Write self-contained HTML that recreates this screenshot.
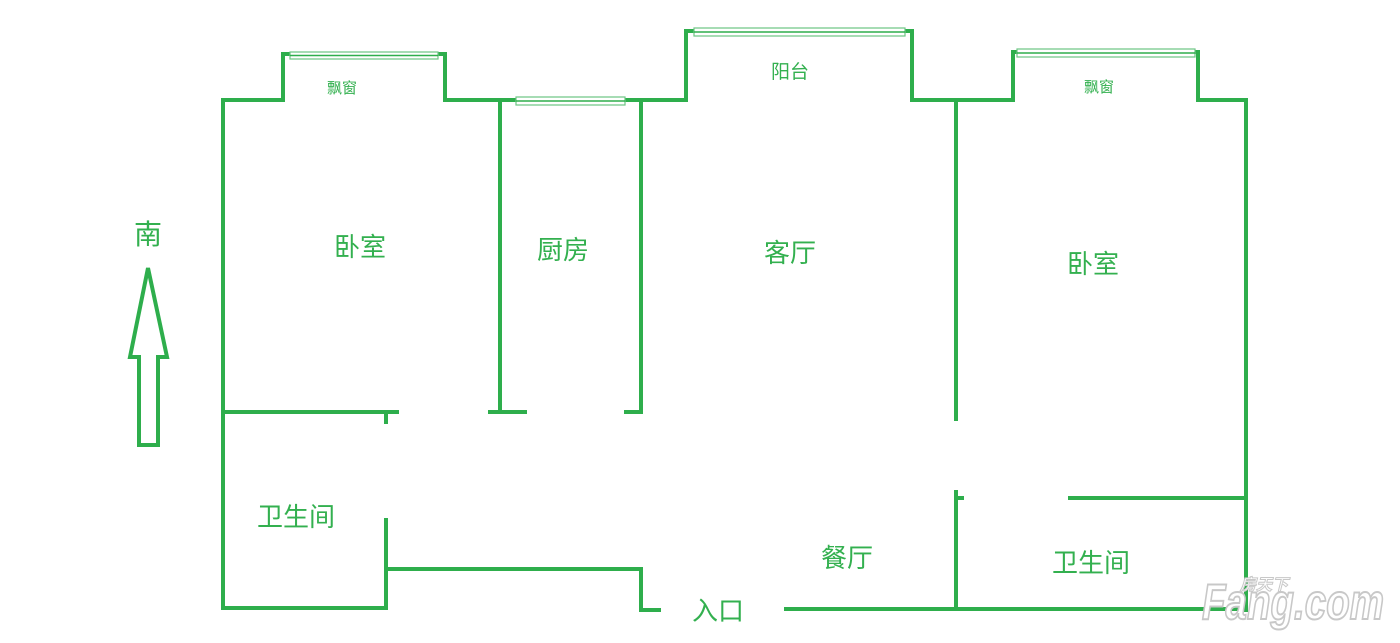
<!DOCTYPE html>
<html><head><meta charset="utf-8"><style>
body{margin:0;background:#fff;width:1400px;height:643px;overflow:hidden}
svg{display:block}
text{font-family:"Liberation Sans","Noto Sans CJK SC",sans-serif;fill:#33b04f}
</style></head><body>
<svg width="1400" height="643" viewBox="0 0 1400 643">
<g stroke="#2eae4c" stroke-width="4" fill="none" stroke-linecap="square">
<polyline points="223,608 223,100 283,100 283,54 445,54 445,100 686,100 686,31 912,31 912,100 1013,100 1013,52 1198,52 1198,100 1246,100 1246,610"/>
<line x1="500" y1="100" x2="500" y2="412"/>
<line x1="490" y1="412" x2="525" y2="412"/>
<line x1="641" y1="100" x2="641" y2="412"/>
<line x1="626" y1="412" x2="641" y2="412"/>
<line x1="223" y1="412" x2="397" y2="412"/>
<line x1="386" y1="412" x2="386" y2="422"/>
<polyline points="223,608 386,608 386,520"/>
<polyline points="386,569 641,569 641,610 659,610"/>
<line x1="786" y1="609" x2="1246" y2="609"/>
<line x1="956" y1="100" x2="956" y2="419"/>
<line x1="956" y1="492" x2="956" y2="609"/>
<line x1="956" y1="498" x2="962" y2="498"/>
<line x1="1070" y1="498" x2="1246" y2="498"/>
</g>
<g stroke="#6cc483" stroke-width="1.2" fill="#fff">
<rect x="290" y="52" width="148" height="7"/>
<rect x="516" y="97" width="109" height="8"/>
<rect x="694" y="28" width="211" height="8"/>
<rect x="1017" y="49" width="178" height="8"/>
</g>
<g stroke="#2eae4c" stroke-width="1.5" fill="none">
<line x1="290" y1="55.5" x2="438" y2="55.5"/>
<line x1="516" y1="101" x2="625" y2="101"/>
<line x1="694" y1="32" x2="905" y2="32"/>
<line x1="1017" y1="53" x2="1195" y2="53"/>
</g>
<polygon points="148,268 167,357 158,357 158,445 139,445 139,357 130,357" fill="none" stroke="#2eae4c" stroke-width="4" stroke-linejoin="miter"/>
<g text-anchor="middle">
<text x="148" y="244" font-size="28">南</text>
<text x="360" y="256" font-size="26">卧室</text>
<text x="563" y="259" font-size="26">厨房</text>
<text x="790" y="262" font-size="26">客厅</text>
<text x="1093" y="273" font-size="26">卧室</text>
<text x="296" y="526" font-size="26">卫生间</text>
<text x="847" y="567" font-size="26">餐厅</text>
<text x="1091" y="572" font-size="26">卫生间</text>
<text x="718" y="620" font-size="26">入口</text>
<text x="342" y="93" font-size="15" fill="#55b86c">飘窗</text>
<text x="790" y="78" font-size="19">阳台</text>
<text x="1099" y="92" font-size="15" fill="#55b86c">飘窗</text>
</g>
<g stroke="#c8c8c8" stroke-width="2" font-weight="bold" font-style="italic">
<text x="1202" y="619" font-size="50" textLength="182" lengthAdjust="spacingAndGlyphs" style="fill:#fff">Fang.com</text>
<text x="1240" y="590" font-size="16" stroke-width="1" style="fill:#fff">房天下</text>
</g>
</svg>
</body></html>
